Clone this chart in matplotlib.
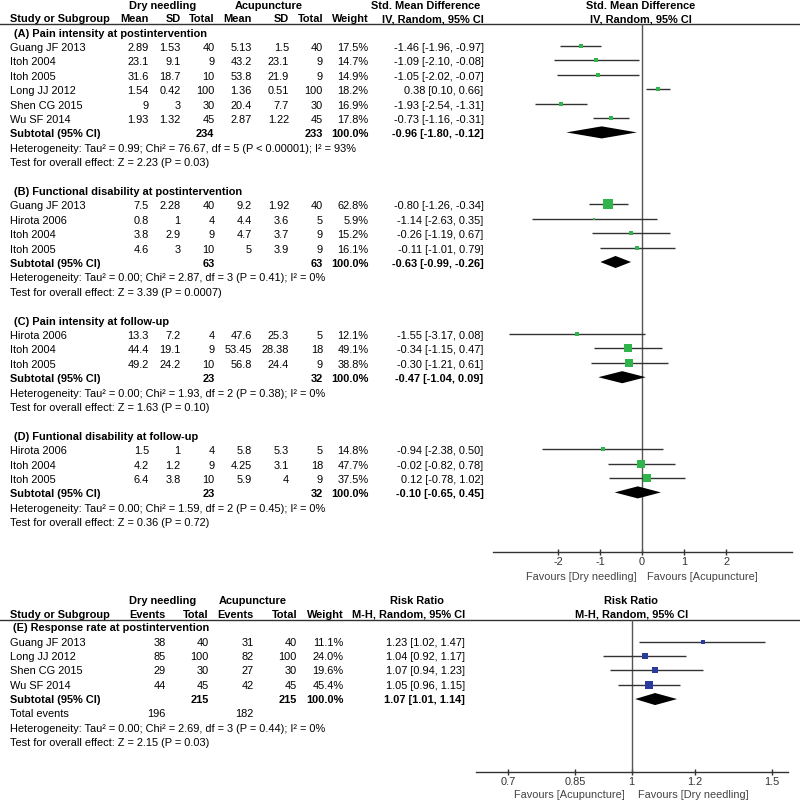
import numpy as np
import matplotlib
matplotlib.use("Agg")
from matplotlib import pyplot as plt
from matplotlib.ticker import NullLocator

plt.rcParams['font.family'] = ['Liberation Sans', 'DejaVu Sans']
FS = 7.9

# (A) Pain intensity at postintervention
a_study = ["Guang JF 2013", "Itoh 2004", "Itoh 2005", "Long JJ 2012", "Shen CG 2015", "Wu SF 2014"]
a_dn_mean = [2.89, 23.1, 31.6, 1.54, 9, 1.93]
a_dn_sd = [1.53, 9.1, 18.7, 0.42, 3, 1.32]
a_dn_n = [40, 9, 10, 100, 30, 45]
a_ac_mean = [5.13, 43.2, 53.8, 1.36, 20.4, 2.87]
a_ac_sd = [1.5, 23.1, 21.9, 0.51, 7.7, 1.22]
a_ac_n = [40, 9, 9, 100, 30, 45]
a_weight = [17.5, 14.7, 14.9, 18.2, 16.9, 17.8]
a_est = [-1.46, -1.09, -1.05, 0.38, -1.93, -0.73]
a_lo = [-1.96, -2.10, -2.02, 0.10, -2.54, -1.16]
a_hi = [-0.97, -0.08, -0.07, 0.66, -1.31, -0.31]
a_sub = [-0.96, -1.80, -0.12]
a_tot = [234, 233]

# (B) Functional disability at postintervention
b_study = ["Guang JF 2013", "Hirota 2006", "Itoh 2004", "Itoh 2005"]
b_dn_mean = [7.5, 0.8, 3.8, 4.6]
b_dn_sd = [2.28, 1, 2.9, 3]
b_dn_n = [40, 4, 9, 10]
b_ac_mean = [9.2, 4.4, 4.7, 5]
b_ac_sd = [1.92, 3.6, 3.7, 3.9]
b_ac_n = [40, 5, 9, 9]
b_weight = [62.8, 5.9, 15.2, 16.1]
b_est = [-0.80, -1.14, -0.26, -0.11]
b_lo = [-1.26, -2.63, -1.19, -1.01]
b_hi = [-0.34, 0.35, 0.67, 0.79]
b_sub = [-0.63, -0.99, -0.26]
b_tot = [63, 63]

# (C) Pain intensity at follow-up
c_study = ["Hirota 2006", "Itoh 2004", "Itoh 2005"]
c_dn_mean = [13.3, 44.4, 49.2]
c_dn_sd = [7.2, 19.1, 24.2]
c_dn_n = [4, 9, 10]
c_ac_mean = [47.6, 53.45, 56.8]
c_ac_sd = [25.3, 28.38, 24.4]
c_ac_n = [5, 18, 9]
c_weight = [12.1, 49.1, 38.8]
c_est = [-1.55, -0.34, -0.30]
c_lo = [-3.17, -1.15, -1.21]
c_hi = [0.08, 0.47, 0.61]
c_sub = [-0.47, -1.04, 0.09]
c_tot = [23, 32]

# (D) Funtional disability at follow-up
d_study = ["Hirota 2006", "Itoh 2004", "Itoh 2005"]
d_dn_mean = [1.5, 4.2, 6.4]
d_dn_sd = [1, 1.2, 3.8]
d_dn_n = [4, 9, 10]
d_ac_mean = [5.8, 4.25, 5.9]
d_ac_sd = [5.3, 3.1, 4]
d_ac_n = [5, 18, 9]
d_weight = [14.8, 47.7, 37.5]
d_est = [-0.94, -0.02, 0.12]
d_lo = [-2.38, -0.82, -0.78]
d_hi = [0.50, 0.78, 1.02]
d_sub = [-0.10, -0.65, 0.45]
d_tot = [23, 32]

titles = ["(A) Pain intensity at postintervention",
          "(B) Functional disability at postintervention",
          "(C) Pain intensity at follow-up",
          "(D) Funtional disability at follow-up"]
het_lines = ["Heterogeneity: Tau\u00b2 = 0.99; Chi\u00b2 = 76.67, df = 5 (P < 0.00001); I\u00b2 = 93%",
             "Heterogeneity: Tau\u00b2 = 0.00; Chi\u00b2 = 2.87, df = 3 (P = 0.41); I\u00b2 = 0%",
             "Heterogeneity: Tau\u00b2 = 0.00; Chi\u00b2 = 1.93, df = 2 (P = 0.38); I\u00b2 = 0%",
             "Heterogeneity: Tau\u00b2 = 0.00; Chi\u00b2 = 1.59, df = 2 (P = 0.45); I\u00b2 = 0%"]
test_lines = ["Test for overall effect: Z = 2.23 (P = 0.03)",
              "Test for overall effect: Z = 3.39 (P = 0.0007)",
              "Test for overall effect: Z = 1.63 (P = 0.10)",
              "Test for overall effect: Z = 0.36 (P = 0.72)"]

# (E) Response rate at postintervention (risk ratio)
e_study = ["Guang JF 2013", "Long JJ 2012", "Shen CG 2015", "Wu SF 2014"]
e_dn_ev = [38, 85, 29, 44]
e_dn_n = [40, 100, 30, 45]
e_ac_ev = [31, 82, 27, 42]
e_ac_n = [40, 100, 30, 45]
e_weight = [11.1, 24.0, 19.6, 45.4]
e_rr = [1.23, 1.04, 1.07, 1.05]
e_lo = [1.02, 0.92, 0.94, 0.96]
e_hi = [1.47, 1.17, 1.23, 1.15]
e_sub = [1.07, 1.01, 1.14]
e_tot = [215, 215]
e_events = [196, 182]
e_title = "(E) Response rate at postintervention"
e_het = "Heterogeneity: Tau\u00b2 = 0.00; Chi\u00b2 = 2.69, df = 3 (P = 0.44); I\u00b2 = 0%"
e_test = "Test for overall effect: Z = 2.15 (P = 0.03)"

smd_ticks = [-2, -1, 0, 1, 2]
rr_ticks = [0.7, 0.85, 1, 1.2, 1.5]

GREEN = "#2fb54c"
BLUE = "#2b3a9c"
LINE = "#333333"

W, H = 800, 801
fig = plt.figure(figsize=(W / 100, H / 100), dpi=100)


def frac(x0, y0, x1, y1):
    return [x0 / W, 1 - y1 / H, (x1 - x0) / W, (y1 - y0) / H]


ax = fig.add_axes([0, 0, 1, 1])
ax.set_xlim(0, W)
ax.set_ylim(H, 0)
ax.axis('off')


def txt(x, y, s, ha='left', bold=False, color='black'):
    ax.text(x, y, s, ha=ha, va='baseline', fontsize=FS,
            fontweight='bold' if bold else 'normal', color=color)


def sq(w):
    return max(1.45 * np.sqrt(w) - 1.2, 2.5) * 0.72


def fmt(v):
    return f"{v:g}"


def ci(e, l, h):
    return f"{e:.2f} [{l:.2f}, {h:.2f}]"


# ---------------- top part: std. mean difference ----------------
ROW0, STEP = 31.6, 14.4
TOP_LINE, AX_Y = 24, 552
ZERO_X, PX_UNIT = 642, 42
OFF = 5.0

txt(163, 9, "Dry needling", 'center', True)
txt(269, 9, "Acupuncture", 'center', True)
txt(426, 9, "Std. Mean Difference", 'center', True)
txt(641, 9, "Std. Mean Difference", 'center', True)
txt(9.5, 22, "Study or Subgroup", bold=True)
for x, s in zip([149, 180.5, 214.5, 252, 289, 323, 368.5, 483.5],
                ["Mean", "SD", "Total", "Mean", "SD", "Total", "Weight", "IV, Random, 95% CI"]):
    txt(x, 22, s, 'right', True)
txt(641, 22, "IV, Random, 95% CI", 'center', True)
ax.plot([0, W], [TOP_LINE, TOP_LINE], color=LINE, lw=1.0)

ax1 = fig.add_axes(frac(493, TOP_LINE, 792, AX_Y))
ax1.patch.set_visible(False)
ax1.set_xlim((493 - ZERO_X) / PX_UNIT, (792 - ZERO_X) / PX_UNIT)
ax1.set_ylim((AX_Y - ROW0) / STEP, (TOP_LINE - ROW0) / STEP)
for s in ['top', 'right', 'left']:
    ax1.spines[s].set_visible(False)
ax1.spines['bottom'].set_color(LINE)
ax1.spines['bottom'].set_linewidth(1.0)
ax1.set_yticks([])
ax1.set_xticks(smd_ticks)
ax1.set_xticklabels([str(t) for t in smd_ticks])
ax1.tick_params(axis='x', direction='inout', length=4.5, width=1.0, pad=1.2,
                labelsize=FS, colors=LINE)
ax1.axvline(0, color="#555555", lw=1.0)

groups = [
    (a_study, a_dn_mean, a_dn_sd, a_dn_n, a_ac_mean, a_ac_sd, a_ac_n, a_weight, a_est, a_lo, a_hi, a_sub, a_tot),
    (b_study, b_dn_mean, b_dn_sd, b_dn_n, b_ac_mean, b_ac_sd, b_ac_n, b_weight, b_est, b_lo, b_hi, b_sub, b_tot),
    (c_study, c_dn_mean, c_dn_sd, c_dn_n, c_ac_mean, c_ac_sd, c_ac_n, c_weight, c_est, c_lo, c_hi, c_sub, c_tot),
    (d_study, d_dn_mean, d_dn_sd, d_dn_n, d_ac_mean, d_ac_sd, d_ac_n, d_weight, d_est, d_lo, d_hi, d_sub, d_tot),
]

k = 0
for gi, g in enumerate(groups):
    study, m1, s1, n1, m2, s2, n2, wt, est, lo, hi, sub, tot = g
    txt(14, ROW0 + STEP * k + OFF, titles[gi], bold=True)
    k += 1
    for i in range(len(study)):
        y = ROW0 + STEP * k + OFF
        txt(9.5, y, study[i])
        vals = [fmt(m1[i]), fmt(s1[i]), str(n1[i]), fmt(m2[i]), fmt(s2[i]), str(n2[i]),
                f"{wt[i]:.1f}%", ci(est[i], lo[i], hi[i])]
        for x, s in zip([149, 180.5, 214.5, 252, 289, 323, 368.5, 483.5], vals):
            txt(x, y, s, 'right')
        ax1.hlines(k, lo[i], hi[i], color=LINE, lw=1.0, zorder=2)
        ax1.plot(est[i], k, marker='s', ms=sq(wt[i]), color=GREEN, mew=0, zorder=3)
        k += 1
    y = ROW0 + STEP * k + OFF
    txt(9.5, y, "Subtotal (95% CI)", bold=True)
    txt(214.5, y, str(tot[0]), 'right', True)
    txt(323, y, str(tot[1]), 'right', True)
    txt(368.5, y, "100.0%", 'right', True)
    txt(483.5, y, ci(*sub), 'right', True)
    ax1.fill([sub[1], sub[0], sub[2], sub[0]], [k, k - 0.42, k, k + 0.42],
             color='black', lw=0, zorder=3)
    k += 1
    txt(9.5, ROW0 + STEP * k + OFF, het_lines[gi])
    k += 1
    txt(9.5, ROW0 + STEP * k + OFF, test_lines[gi])
    k += 2

txt(637, 580, "Favours [Dry needling]", 'right', color="#444444")
txt(647, 580, "Favours [Acupuncture]", 'left', color="#444444")

# ---------------- bottom part: risk ratio ----------------
ROW1, STEP1 = 627.3, 14.35
RR_LINE, RR_AX = 619.5, 772.3
ONE_X, PX_LOG = 631.7, 346.0
OFF1 = 4.0

txt(162.5, 604, "Dry needling", 'center', True)
txt(253, 604, "Acupuncture", 'center', True)
txt(416.7, 604, "Risk Ratio", 'center', True)
txt(631, 604, "Risk Ratio", 'center', True)
txt(9.5, 617.5, "Study or Subgroup", bold=True)
cols_e = [165.7, 208.5, 253.5, 297, 343.5, 465]
for x, s in zip(cols_e, ["Events", "Total", "Events", "Total", "Weight", "M-H, Random, 95% CI"]):
    txt(x, 617.5, s, 'right', True)
txt(631.7, 617.5, "M-H, Random, 95% CI", 'center', True)
ax.plot([0, W], [RR_LINE, RR_LINE], color=LINE, lw=1.0)

ax2 = fig.add_axes(frac(476, RR_LINE, 788.3, RR_AX))
ax2.patch.set_visible(False)
ax2.set_xscale('log')
ax2.set_xlim(np.exp((476 - ONE_X) / PX_LOG), np.exp((788.3 - ONE_X) / PX_LOG))
ax2.set_ylim((RR_AX - ROW1) / STEP1, (RR_LINE - ROW1) / STEP1)
for s in ['top', 'right', 'left']:
    ax2.spines[s].set_visible(False)
ax2.spines['bottom'].set_color(LINE)
ax2.spines['bottom'].set_linewidth(1.0)
ax2.set_yticks([])
ax2.set_xticks(rr_ticks)
ax2.set_xticklabels([fmt(t) for t in rr_ticks])
ax2.xaxis.set_minor_locator(NullLocator())
ax2.tick_params(axis='x', direction='inout', length=4.5, width=1.0, pad=1.2,
                labelsize=FS, colors=LINE)
ax2.axvline(1, color="#555555", lw=1.0)

txt(13, ROW1 + OFF1, e_title, bold=True)
for i in range(len(e_study)):
    kk = i + 1
    y = ROW1 + STEP1 * kk + OFF1
    txt(9.5, y, e_study[i])
    vals = [str(e_dn_ev[i]), str(e_dn_n[i]), str(e_ac_ev[i]), str(e_ac_n[i]),
            f"{e_weight[i]:.1f}%", ci(e_rr[i], e_lo[i], e_hi[i])]
    for x, s in zip(cols_e, vals):
        txt(x, y, s, 'right')
    ax2.hlines(kk, e_lo[i], e_hi[i], color=LINE, lw=1.0, zorder=2)
    ax2.plot(e_rr[i], kk, marker='s', ms=sq(e_weight[i]), color=BLUE, mew=0, zorder=3)

kk = len(e_study) + 1
y = ROW1 + STEP1 * kk + OFF1
txt(9.5, y, "Subtotal (95% CI)", bold=True)
txt(208.5, y, str(e_tot[0]), 'right', True)
txt(297, y, str(e_tot[1]), 'right', True)
txt(343.5, y, "100.0%", 'right', True)
txt(465, y, ci(*e_sub), 'right', True)
ax2.fill([e_sub[1], e_sub[0], e_sub[2], e_sub[0]], [kk, kk - 0.42, kk, kk + 0.42],
         color='black', lw=0, zorder=3)
y = ROW1 + STEP1 * (kk + 1) + OFF1
txt(9.5, y, "Total events")
txt(165.7, y, str(e_events[0]), 'right')
txt(253.5, y, str(e_events[1]), 'right')
txt(9.5, ROW1 + STEP1 * (kk + 2) + OFF1, e_het)
txt(9.5, ROW1 + STEP1 * (kk + 3) + OFF1, e_test)

txt(625, 798, "Favours [Acupuncture]", 'right', color="#444444")
txt(638, 798, "Favours [Dry needling]", 'left', color="#444444")

fig.savefig("out.png", dpi=100)
